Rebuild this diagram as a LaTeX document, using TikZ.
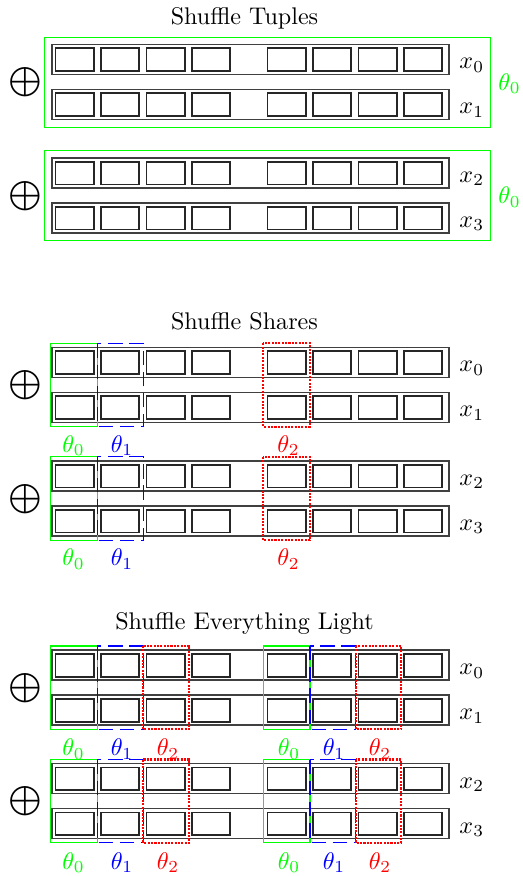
\documentclass[tikz,border=0pt]{standalone}
\usepackage{graphicx}
\begin{document}
\begin{tikzpicture}[x=0.415pt,y=-0.415pt,
  rowbox/.style={draw=black!75, line width=0.6pt},
  cellbox/.style={draw=black!85, line width=0.8pt},
  grnbox/.style={draw=green, line width=0.5pt},
  bluebox/.style={draw=blue, line width=0.5pt, dash pattern=on 6pt off 2.8pt},
  redbox/.style={draw=red, line width=0.85pt, dash pattern=on 0.85pt off 0.55pt},
  titletext/.style={anchor=base, inner sep=0pt},
  xlab/.style={anchor=base west, inner sep=0pt},
  glab/.style={anchor=base, inner sep=0pt, text=green},
  blab/.style={anchor=base, inner sep=0pt, text=blue},
  rlab/.style={anchor=base, inner sep=0pt, text=red},
  oplusnode/.style={inner sep=0pt}]
\useasboundingbox (0,0) rectangle (522,876);

\newcommand\drawrow[3]{%
  \draw[rowbox] (52,#1) rectangle (449,#1+30);
  \foreach \cx in {55.5,101,146.5,192,267.5,313,358.5,404}
    \draw[cellbox] (\cx,#1+4) rectangle (\cx+38.3,#1+26.7);
  \node[xlab] (#3) at (459,#1+24.5) {$x_{#2}$};
}
\newcommand\bigop{\scalebox{0.87}{$\displaystyle\bigoplus$}}

% ---------- Section 1: Shuffle Tuples ----------
\node[titletext] (title1) at (244.5,24.3) {Shuffle Tuples};
\drawrow{44.3}{0}{ax0}
\drawrow{89.3}{1}{ax1}
\drawrow{157.8}{2}{ax2}
\drawrow{202.8}{3}{ax3}
\draw[grnbox] (44.7,37.3) rectangle (490.7,127.3);
\draw[grnbox] (44.7,150.8) rectangle (490.7,240.8);
\node[anchor=base west, inner sep=0pt, text=green] (at0a) at (498,90) {$\theta_0$};
\node[anchor=base west, inner sep=0pt, text=green] (at0b) at (498,203.5) {$\theta_0$};
\node[oplusnode] (aop1) at (25,82.3) {\bigop};
\node[oplusnode] (aop2) at (25,195.8) {\bigop};

% ---------- Section 2: Shuffle Shares ----------
\node[titletext] (title2) at (244.5,329.3) {Shuffle Shares};
\drawrow{347.3}{0}{bx0}
\drawrow{392.3}{1}{bx1}
\drawrow{460.8}{2}{bx2}
\drawrow{505.8}{3}{bx3}
\foreach \g/\n in {347.3/a,460.8/b}{
  \draw[grnbox] (50.3,\g-4) rectangle (97.3,\g+79.3);
  \draw[bluebox] (97.3,\g-4) rectangle (143.3,\g+79.3);
  \draw[redbox] (263.3,\g-4) rectangle (310,\g+79.3);
  \node[glab] (bt0\n) at (73.5,\g+105) {$\theta_0$};
  \node[blab] (bt1\n) at (122,\g+105) {$\theta_1$};
  \node[rlab] (bt2\n) at (288.5,\g+105) {$\theta_2$};
}
\node[oplusnode] (bop1) at (25,385.3) {\bigop};
\node[oplusnode] (bop2) at (25,498.8) {\bigop};

% ---------- Section 3: Shuffle Everything Light ----------
\node[titletext] (title3) at (244.5,629.3) {Shuffle Everything Light};
\drawrow{650}{0}{cx0}
\drawrow{695}{1}{cx1}
\drawrow{763.5}{2}{cx2}
\drawrow{808.5}{3}{cx3}
\foreach \g/\n in {650/a,763.5/b}{
  \draw[grnbox] (50.3,\g-4) rectangle (97.3,\g+79.3);
  \draw[bluebox] (97.3,\g-4) rectangle (143.3,\g+79.3);
  \draw[redbox] (143.3,\g-4) rectangle (189.3,\g+79.3);
  \draw[grnbox] (263.3,\g-4) rectangle (310,\g+79.3);
  \draw[bluebox] (310,\g-4) rectangle (355.7,\g+79.3);
  \draw[redbox] (355.7,\g-4) rectangle (401.3,\g+79.3);
  \node[glab] (ct0\n) at (73.5,\g+105.5) {$\theta_0$};
  \node[blab] (ct1\n) at (122,\g+105.5) {$\theta_1$};
  \node[rlab] (ct2\n) at (168,\g+105.5) {$\theta_2$};
  \node[glab] (ct3\n) at (289,\g+105.5) {$\theta_0$};
  \node[blab] (ct4\n) at (334,\g+105.5) {$\theta_1$};
  \node[rlab] (ct5\n) at (380,\g+105.5) {$\theta_2$};
}
\node[oplusnode] (cop1) at (25,688) {\bigop};
\node[oplusnode] (cop2) at (25,801.5) {\bigop};
\end{tikzpicture}
\end{document}
